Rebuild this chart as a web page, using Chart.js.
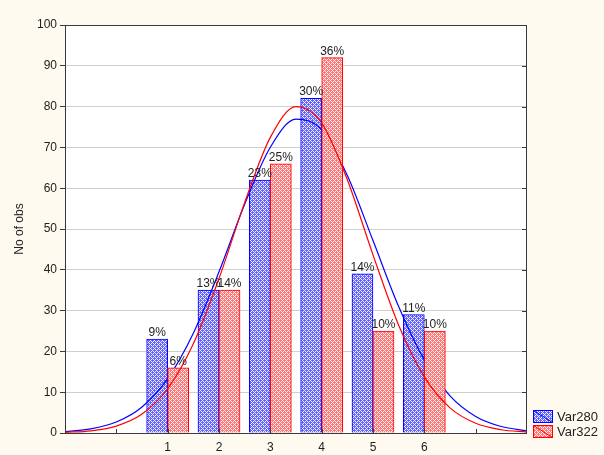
<!DOCTYPE html>
<html><head><meta charset="utf-8">
<script src="https://cdn.jsdelivr.net/npm/chart.js@4"></script>
<style>html,body{margin:0;padding:0;background:#FFFAF0;}canvas{display:block}</style>
</head><body>
<canvas id="c" width="604" height="455"></canvas>
<script>
const categories = [1, 2, 3, 4, 5, 6];
const var280 = [23, 35, 62, 82, 39, 29];
const var322 = [16, 35, 66, 92, 25, 25];
const pct280 = [9, 13, 23, 30, 14, 11];
const pct322 = [6, 14, 25, 36, 10, 10];
const curveX = [-1, -0.5, 0, 0.5, 1, 1.5, 2, 2.5, 3, 3.5, 4, 4.5, 5, 5.5, 6, 6.5, 7, 7.5, 8];
const curve280 = [0.33, 1.0, 2.69, 6.38, 13.33, 24.47, 39.5, 56.09, 70.04, 76.92, 74.3, 63.12, 47.16, 30.99, 17.92, 9.11, 4.07, 1.6, 0.55];
const curve322 = [0.15, 0.54, 1.7, 4.63, 10.85, 21.85, 37.86, 56.47, 72.45, 79.98, 75.97, 62.09, 43.66, 26.42, 13.75, 6.16, 2.38, 0.79, 0.23];
const seriesNames = ['Var280', 'Var322'];
const yTicks = [0, 10, 20, 30, 40, 50, 60, 70, 80, 90, 100];

const FONT = 'Liberation Sans, Arial, sans-serif';
const BLUE = '#0000FF', RED = '#FF0000';
const OFF = 0.205;

function makePattern(dark, light) {
  const t = document.createElement('canvas');
  t.width = 4; t.height = 4;
  const g = t.getContext('2d');
  g.fillStyle = dark; g.fillRect(0, 0, 4, 4);
  g.fillStyle = light;
  g.fillRect(1, 1, 1, 1); g.fillRect(3, 3, 1, 1); g.fillRect(1, 3, 1, 1); g.fillRect(3, 1, 1, 1);
  g.fillRect(0, 2, 1, 1); g.fillRect(2, 0, 1, 1);
  return document.getElementById('c').getContext('2d').createPattern(t, 'repeat');
}
const bluePat = makePattern('#6262ff', '#f0f0ff');
const redPat = makePattern('#ff7474', '#fff0f0');

const bgPlugin = {
  id: 'bg',
  beforeDraw(chart) {
    const { ctx, chartArea: a } = chart;
    ctx.save();
    ctx.fillStyle = '#FFFAF0';
    ctx.fillRect(0, 0, chart.width, chart.height);
    ctx.fillStyle = '#FFFFFF';
    ctx.fillRect(a.left, a.top, a.right - a.left, a.bottom - a.top);
    ctx.restore();
  },
  afterDatasetsDraw(chart) {
    const { ctx, chartArea: a, scales } = chart;
    const xs = scales.x, ys = scales.y;
    ctx.save();
    ctx.font = '12px ' + FONT;
    ctx.fillStyle = '#222';
    ctx.textAlign = 'center';
    ctx.textBaseline = 'alphabetic';
    categories.forEach((c, i) => {
      ctx.fillText(pct280[i] + '%', xs.getPixelForValue(c - OFF), ys.getPixelForValue(var280[i]) - 3);
      ctx.fillText(pct322[i] + '%', xs.getPixelForValue(c + OFF), ys.getPixelForValue(var322[i]) - 3);
    });
    ctx.strokeStyle = '#3a3a3a';
    ctx.lineWidth = 1;
    ctx.strokeRect(Math.round(a.left) + 0.5, Math.round(a.top) + 0.5, Math.round(a.right - a.left) - 1, Math.round(a.bottom - a.top));
    ctx.beginPath();
    for (let v = 0; v <= 7; v++) {
      const px = Math.round(xs.getPixelForValue(v)) + 0.5;
      ctx.moveTo(px, a.bottom); ctx.lineTo(px, a.bottom - 4);
    }
    ctx.stroke();
    ctx.beginPath();
    yTicks.forEach(v => {
      const py = Math.round(ys.getPixelForValue(v)) + 0.5;
      ctx.moveTo(a.right - 5, py); ctx.lineTo(a.right, py);
    });
    ctx.stroke();
    ctx.save();
    ctx.translate(20, (a.top + a.bottom) / 2);
    ctx.rotate(-Math.PI / 2);
    ctx.textAlign = 'center';
    ctx.textBaseline = 'middle';
    ctx.fillStyle = '#222';
    ctx.font = '12px ' + FONT;
    ctx.fillText('No of obs', 0, 0);
    ctx.restore();
    const items = [[bluePat, BLUE], [redPat, RED]];
    items.forEach((it, k) => {
      const x = 533.5, y = 410.5 + k * 15, w = 19, h = 12;
      ctx.fillStyle = it[0];
      ctx.fillRect(x, y, w, h);
      ctx.strokeStyle = it[1];
      ctx.lineWidth = 1;
      ctx.strokeRect(x, y, w, h);
      ctx.beginPath(); ctx.moveTo(x, y); ctx.lineTo(x + w, y + h); ctx.stroke();
      ctx.fillStyle = '#222';
      ctx.font = '13px ' + FONT;
      ctx.textAlign = 'left';
      ctx.textBaseline = 'middle';
      ctx.fillText(seriesNames[k], 557, y + h / 2 + 1);
    });
    ctx.restore();
  }
};

new Chart(document.getElementById('c'), {
  type: 'bar',
  data: {
    datasets: [
      {
        type: 'bar', label: seriesNames[0], order: 4,
        data: categories.map((c, i) => ({ x: c - OFF, y: var280[i] })),
        backgroundColor: bluePat, borderColor: BLUE, borderWidth: 1,
        grouped: false, barThickness: 21, borderSkipped: 'bottom'
      },
      {
        type: 'line', label: seriesNames[0] + ' fit', order: 3,
        data: curveX.map((x, i) => ({ x: x, y: curve280[i] })),
        borderColor: BLUE, borderWidth: 1.2, pointRadius: 0, fill: false,
        cubicInterpolationMode: 'monotone'
      },
      {
        type: 'bar', label: seriesNames[1], order: 2,
        data: categories.map((c, i) => ({ x: c + OFF, y: var322[i] })),
        backgroundColor: redPat, borderColor: RED, borderWidth: 1,
        grouped: false, barThickness: 21, borderSkipped: 'bottom'
      },
      {
        type: 'line', label: seriesNames[1] + ' fit', order: 1,
        data: curveX.map((x, i) => ({ x: x, y: curve322[i] })),
        borderColor: RED, borderWidth: 1.2, pointRadius: 0, fill: false,
        cubicInterpolationMode: 'monotone'
      }
    ]
  },
  options: {
    responsive: false,
    animation: false,
    events: [],
    layout: { padding: { top: 25, right: 77, left: 0, bottom: 0 } },
    plugins: { legend: { display: false }, tooltip: { enabled: false } },
    scales: {
      x: {
        type: 'linear', min: -1, max: 8, offset: false,
        grid: { display: false, drawTicks: false, offset: false },
        border: { display: false },
        ticks: {
          stepSize: 1, padding: 7, color: '#222', font: { size: 12, family: FONT },
          autoSkip: false, maxRotation: 0,
          callback: v => categories.includes(v) ? String(v) : ''
        },
        afterFit: s => { s.height = 22; }
      },
      y: {
        min: 0, max: 100,
        grid: { color: '#cfcfcf', lineWidth: 1, tickLength: 5, tickColor: '#3a3a3a' },
        border: { display: false },
        ticks: { stepSize: 10, padding: 3, color: '#222', font: { size: 12, family: FONT } },
        afterFit: s => { s.width = 65; }
      }
    }
  },
  plugins: [bgPlugin]
});
</script>
</body></html>
